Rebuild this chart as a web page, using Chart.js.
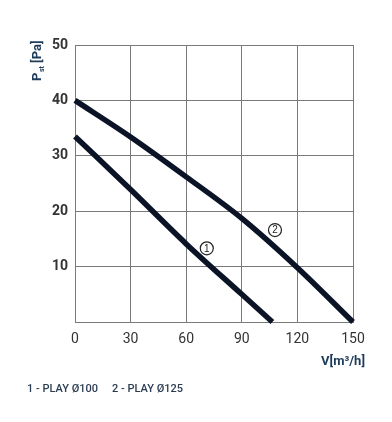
<!DOCTYPE html>
<html>
<head>
<meta charset="utf-8">
<script src="https://cdn.jsdelivr.net/npm/chart.js@4.4.1/dist/chart.umd.min.js"></script>
<style>
  html, body { margin: 0; padding: 0; background: #ffffff; }
  #wrap { position: relative; width: 392px; height: 422px; }
  canvas { display: block; }
</style>
</head>
<body>
<div id="wrap"><canvas id="c" width="392" height="422"></canvas></div>
<script>
// ---- data ----
const xTicks = [0, 30, 60, 90, 120, 150];
const yTicks = [0, 10, 20, 30, 40, 50];
const curve1V = [0, 30, 60, 90, 106.5];
const curve1P = [33.5, 23.9, 14.1, 5.0, 0];
const curve2V = [0, 30, 60, 90, 120, 150];
const curve2P = [40, 33.4, 26.2, 18.7, 9.8, 0];
const curveLabels = ['1', '2'];
const labelV = [71.1, 107.9];
const labelP = [13.3, 16.6];
const legendText = ['1 - PLAY Ø100', '2 - PLAY Ø125'];
const xTitle = 'V[m³/h]';
const yTitleMain = 'P';
const yTitleSub = 'st';
const yTitleUnit = ' [Pa]';

const toPts = (xs, ys) => xs.map((x, i) => ({ x: x, y: ys[i] }));

const lineColor = '#0b1426';
const navy = '#1d3b5a';

const decor = {
  id: 'decor',
  afterDraw(chart) {
    const ctx = chart.ctx;
    const xs = chart.scales.x, ys = chart.scales.y;
    ctx.save();
    // circled labels
    for (let i = 0; i < curveLabels.length; i++) {
      const px = xs.getPixelForValue(labelV[i]);
      const py = ys.getPixelForValue(labelP[i]);
      ctx.fillStyle = '#ffffff';
      ctx.beginPath(); ctx.arc(px, py, 6.5, 0, Math.PI * 2); ctx.fill();
      ctx.strokeStyle = '#222';
      ctx.lineWidth = 1.2;
      ctx.stroke();
      ctx.fillStyle = '#222';
      ctx.font = '10px "Liberation Sans", Arial, sans-serif';
      ctx.textAlign = 'center';
      ctx.textBaseline = 'middle';
      ctx.fillText(curveLabels[i], px, py + 0.5);
    }
    // x title
    ctx.fillStyle = navy;
    ctx.font = 'bold 13px Roboto, "Liberation Sans", sans-serif';
    ctx.textAlign = 'right';
    ctx.textBaseline = 'alphabetic';
    ctx.fillText(xTitle, 365, 365);
    // y title (rotated)
    ctx.translate(41, 81);
    ctx.rotate(-Math.PI / 2);
    ctx.textAlign = 'left';
    ctx.font = 'bold 13px Roboto, "Liberation Sans", sans-serif';
    let x = 0;
    ctx.fillText(yTitleMain, x, 0);
    x += ctx.measureText(yTitleMain).width + 0.5;
    ctx.font = 'bold 7px Roboto, "Liberation Sans", sans-serif';
    ctx.fillText(yTitleSub, x, 3);
    x += ctx.measureText(yTitleSub).width;
    ctx.font = 'bold 13px Roboto, "Liberation Sans", sans-serif';
    ctx.fillText(yTitleUnit, x, 0);
    ctx.setTransform(1, 0, 0, 1, 0, 0);
    // legend text
    ctx.fillStyle = '#2b3d52';
    ctx.font = '500 11px Roboto, "Liberation Sans", sans-serif';
    ctx.textAlign = 'left';
    ctx.fillText(legendText[0], 27, 392);
    ctx.fillText(legendText[1], 112, 392);
    ctx.restore();
  }
};

new Chart(document.getElementById('c'), {
  type: 'scatter',
  data: {
    datasets: [
      { data: toPts(curve1V, curve1P), showLine: true, borderColor: lineColor, borderWidth: 5.5, pointRadius: 0, cubicInterpolationMode: 'monotone', borderCapStyle: 'butt' },
      { data: toPts(curve2V, curve2P), showLine: true, borderColor: lineColor, borderWidth: 5.5, pointRadius: 0, cubicInterpolationMode: 'monotone', borderCapStyle: 'butt' }
    ]
  },
  options: {
    responsive: false,
    animation: false,
    devicePixelRatio: 1,
    layout: { padding: { top: 45, right: 39, left: 0, bottom: 0 } },
    plugins: { legend: { display: false }, tooltip: { enabled: false } },
    clip: false,
    scales: {
      x: {
        type: 'linear', min: 0, max: 150,
        afterBuildTicks(s) { s.ticks = xTicks.map(v => ({ value: v })); },
        afterFit(s) { s.height = 100; },
        grid: { color: '#7a7a7a', lineWidth: 1, drawTicks: false },
        border: { color: '#7a7a7a', width: 1 },
        ticks: { padding: 9, color: '#333', font: { family: 'Roboto, "Liberation Sans", sans-serif', size: 14 } }
      },
      y: {
        type: 'linear', min: 0, max: 50,
        afterBuildTicks(s) { s.ticks = yTicks.map(v => ({ value: v })); },
        afterFit(s) { s.width = 75; },
        grid: { color: '#7a7a7a', lineWidth: 1, drawTicks: false },
        border: { color: '#7a7a7a', width: 1 },
        ticks: {
          padding: 7, color: '#333',
          font: { family: 'Roboto, "Liberation Sans", sans-serif', size: 14, weight: 'bold' },
          callback: v => (v === 0 ? '' : String(v))
        }
      }
    }
  },
  plugins: [decor]
});
</script>
</body>
</html>
